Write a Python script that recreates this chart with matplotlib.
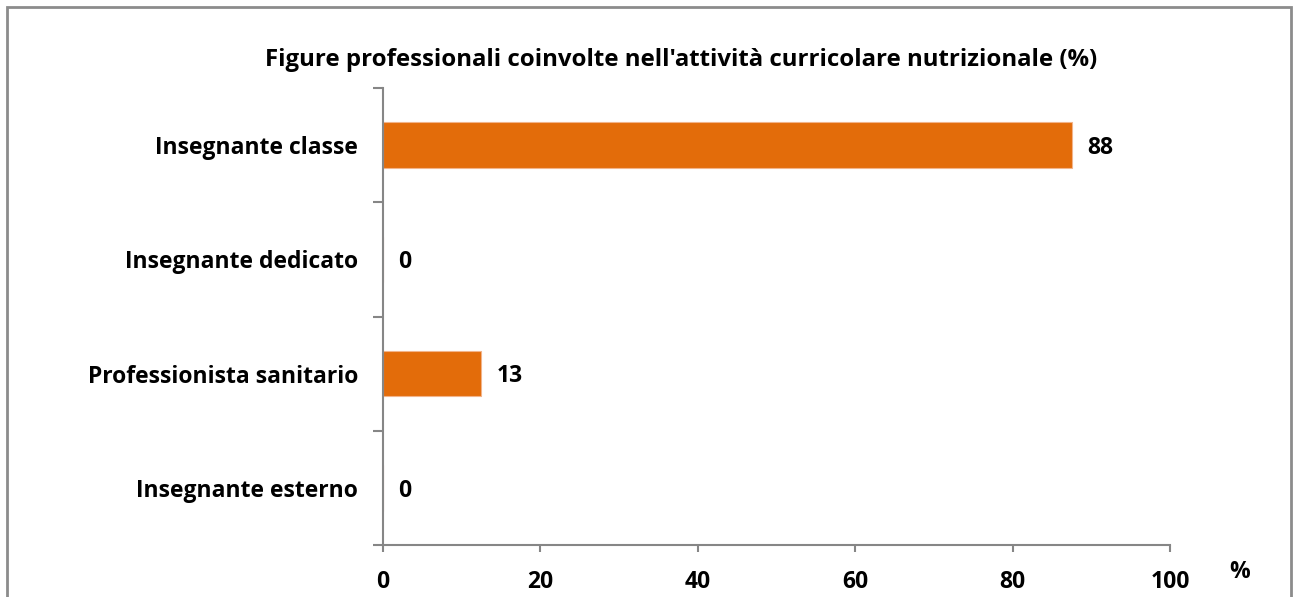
import matplotlib
matplotlib.use("Agg")
import matplotlib.pyplot as plt
from matplotlib.patches import Rectangle
import math

categories = ["Insegnante classe", "Insegnante dedicato", "Professionista sanitario", "Insegnante esterno"]
values = [87.5, 0, 12.5, 0]
xticks = [0, 20, 40, 60, 80, 100]
title = "Figure professionali coinvolte nell'attività curricolare nutrizionale (%)"

W, H = 1293, 597
fig = plt.figure(figsize=(W / 100, H / 100), dpi=100)
plt.rcParams['font.family'] = ['Open Sans', 'DejaVu Sans']
FS = 16.5

# outer frame
fig.patches.append(Rectangle((7 / W, -0.05), (1291 - 7) / W, (H - 7) / H + 0.05,
                             transform=fig.transFigure, fill=False,
                             edgecolor="#8c8c8c", linewidth=2))

left, right, top, bottom = 383, 1170, 88, 545
ax = fig.add_axes([left / W, 1 - bottom / H, (right - left) / W, (bottom - top) / H])

n = len(categories)
ypos = list(range(n))
ax.barh(ypos, values, height=0.4, color="#E36C0A", edgecolor="#F2B48A", linewidth=0.8)
ax.set_ylim(n - 0.5, -0.5)
ax.set_xlim(0, 100)

for y, v in zip(ypos, values):
    ax.annotate(str(int(math.floor(v + 0.5))), (v, y), xytext=(11, -2), textcoords="offset points",
                ha="left", va="center", fontsize=FS, fontweight="bold", color="black")

ax.set_yticks(ypos)
ax.set_yticklabels(categories, fontsize=FS, fontweight="bold")
ax.tick_params(axis="y", which="major", length=0, pad=18)
ax.set_yticks([i - 0.5 for i in range(n + 1)], minor=True)
ax.tick_params(axis="y", which="minor", length=7, width=1.5, color="#868686", direction="out")

ax.set_xticks(xticks)
ax.set_xticklabels([str(t) for t in xticks], fontsize=FS, fontweight="bold")
ax.tick_params(axis="x", length=5, width=1.5, color="#868686", direction="out", pad=13)

for s in ["top", "right"]:
    ax.spines[s].set_visible(False)
for s in ["left", "bottom"]:
    ax.spines[s].set_color("#868686")
    ax.spines[s].set_linewidth(1.5)

fig.text(681 / W, 1 - 60 / H, title, ha="center", va="center", fontsize=17.3, fontweight="bold")
fig.text(1240 / W, 1 - 572 / H, "%", ha="center", va="center", fontsize=FS, fontweight="bold")

fig.savefig("out.png", dpi=100)
